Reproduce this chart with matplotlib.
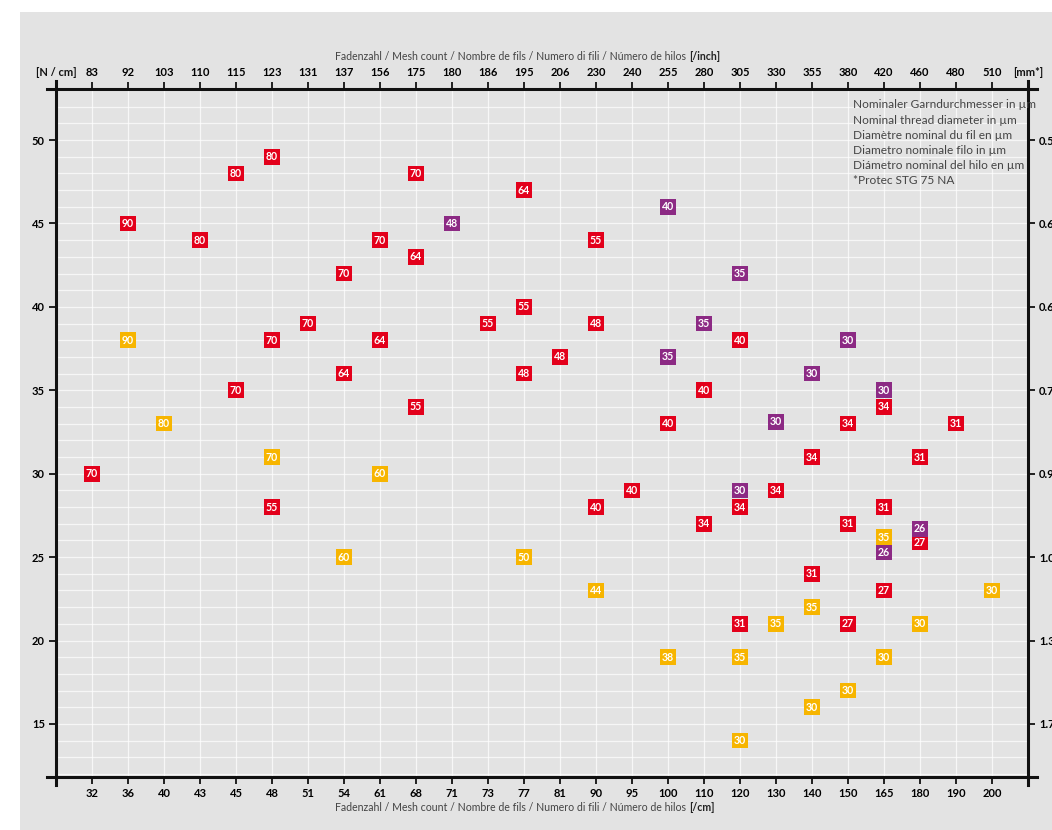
import matplotlib
matplotlib.use('Agg')
from matplotlib import pyplot as plt
from matplotlib.patches import Rectangle

plt.rcParams['font.family'] = ['Lato', 'DejaVu Sans']

mesh_cm = [32, 36, 40, 43, 45, 48, 51, 54, 61, 68, 71, 73, 77, 81, 90, 95,
           100, 110, 120, 130, 140, 150, 165, 180, 190, 200]
mesh_inch = [83, 92, 103, 110, 115, 123, 131, 137, 156, 175, 180, 186, 195, 206,
             230, 240, 255, 280, 305, 330, 355, 380, 420, 460, 480, 510]
left_ticks = [15, 20, 25, 30, 35, 40, 45, 50]
right_labels = ["1.75", "1.34", "1.08", "0.91", "0.78", "0.69", "0.61", "0.55"]

red_cm = [32, 36, 43, 45, 45, 48, 48, 48, 51, 54, 54, 61, 61, 68, 68, 68, 73, 77, 77, 77,
          81, 90, 90, 90, 95, 100, 110, 110, 120, 120, 120, 130, 140, 140, 150, 150, 150,
          165, 165, 165, 180, 180, 190]
red_val = [30, 45, 44, 48, 35, 49, 38, 28, 39, 42, 36, 44, 38, 48, 43, 34, 39, 47, 40, 36,
           37, 44, 39, 28, 29, 33, 35, 27, 38, 28, 21, 29, 31, 24, 33, 27, 21,
           34, 28, 23, 31, 25.9, 33]
red_diam = [70, 90, 80, 80, 70, 80, 70, 55, 70, 70, 64, 70, 64, 70, 64, 55, 55, 64, 55, 48,
            48, 55, 48, 40, 40, 40, 40, 34, 40, 34, 31, 34, 34, 31, 34, 31, 27,
            34, 31, 27, 31, 27, 31]

purple_cm = [71, 100, 100, 110, 120, 120, 130, 140, 150, 165, 165, 180]
purple_val = [45, 46, 37, 39, 42, 29, 33.1, 36, 38, 35, 25.3, 26.7]
purple_diam = [48, 40, 35, 35, 35, 30, 30, 30, 30, 30, 26, 26]

yellow_cm = [36, 40, 48, 54, 61, 77, 90, 100, 120, 120, 130, 140, 140, 150, 165, 165, 180, 200]
yellow_val = [38, 33, 31, 25, 30, 25, 23, 19, 19, 14, 21, 22, 16, 17, 26.2, 19, 21, 23]
yellow_diam = [90, 80, 70, 60, 60, 50, 44, 38, 35, 30, 35, 35, 30, 30, 35, 30, 30, 30]

legend_lines = ["Nominaler Garndurchmesser in µm",
                "Nominal thread diameter in µm",
                "Diamètre nominal du fil en µm",
                "Diametro nominale filo in µm",
                "Diámetro nominal del hilo en µm",
                "*Protec STG 75 NA"]

BG = "#e3e3e3"
TXT = "#444444"


def add_labels(ax, cms, vals, diams, color):
    for c, v, d in zip(cms, vals, diams):
        ax.text(mesh_cm.index(c), v, str(d), color="white", fontsize=7.6, fontweight="bold",
                ha="center", va="center", zorder=5,
                bbox=dict(boxstyle="square,pad=0.22", fc=color, ec="none"))


def plot_chart():
    fig = plt.figure(figsize=(10.52, 8.3), dpi=100)
    fig.patches.append(Rectangle((20 / 1052, 0), 1, 1 - 12 / 830, transform=fig.transFigure,
                                 fc=BG, ec="none", zorder=-10))

    ax = fig.add_axes([56 / 1052, 1 - 777 / 830, 972 / 1052, 688 / 830])
    ax.set_facecolor(BG)
    xs = list(range(len(mesh_cm)))
    ax.set_xlim(-1, 26)
    ax.set_ylim(11.82, 53.06)

    for i in xs:
        ax.axvline(i, color="white", lw=0.9, alpha=0.75, zorder=1)
    for y in range(12, 54):
        ax.axhline(y, color="white", lw=0.9, alpha=0.7, zorder=1)

    for s in ax.spines.values():
        s.set_visible(False)
    k = dict(color="#111111", lw=2.2, transform=ax.transAxes, clip_on=False, zorder=6)
    ax.plot([-0.009, 1.009], [0, 0], **k)
    ax.plot([-0.009, 1.009], [1, 1], **k)
    ax.plot([0, 0], [-0.012, 1.011], **k)
    ax.plot([1, 1], [-0.012, 1.011], **k)

    ax.set_xticks(xs)
    ax.set_xticklabels([str(v) for v in mesh_cm])
    ax.set_yticks(left_ticks)
    ax.set_yticklabels([str(v) for v in left_ticks])
    ax.tick_params(axis="both", length=5, width=1.3, color="#111111", labelsize=8, pad=3)
    for t in ax.get_xticklabels() + ax.get_yticklabels():
        t.set_fontweight("bold")

    ax_top = ax.twiny()
    ax_top.set_xlim(ax.get_xlim())
    ax_top.set_xticks(xs)
    ax_top.set_xticklabels([str(v) for v in mesh_inch], fontweight="bold")
    ax_top.tick_params(axis="x", length=5, width=1.3, color="#111111", labelsize=8, pad=3)
    for s in ax_top.spines.values():
        s.set_visible(False)

    ax_right = ax.twinx()
    ax_right.set_ylim(ax.get_ylim())
    ax_right.set_yticks(left_ticks)
    ax_right.set_yticklabels(right_labels, fontweight="bold")
    ax_right.tick_params(axis="y", length=5, width=1.3, color="#111111", labelsize=8, pad=3)
    for s in ax_right.spines.values():
        s.set_visible(False)

    add_labels(ax, red_cm, red_val, red_diam, "#e3001b")
    add_labels(ax, purple_cm, purple_val, purple_diam, "#8c2a84")
    add_labels(ax, yellow_cm, yellow_val, yellow_diam, "#f7b500")

    for xa, label in [(0, "[N / cm]"), (1, "[mm*]")]:
        ax.text(xa, 1 + 16 / 688, label, transform=ax.transAxes, ha="center", va="center",
                fontsize=8, fontweight="bold", color="#111111")

    fig.text(686 / 1052, 1 - 56 / 830,
             "Fadenzahl / Mesh count / Nombre de fils / Numero di fili / Número de hilos",
             ha="right", va="center", fontsize=7.6, color=TXT)
    fig.text(689 / 1052, 1 - 56 / 830, "[/inch]", ha="left", va="center",
             fontsize=7.6, fontweight="bold", color="#222222")
    fig.text(686 / 1052, 1 - 807 / 830,
             "Fadenzahl / Mesh count / Nombre de fils / Numero di fili / Número de hilos",
             ha="right", va="center", fontsize=7.6, color=TXT)
    fig.text(689 / 1052, 1 - 807 / 830, "[/cm]", ha="left", va="center",
             fontsize=7.6, fontweight="bold", color="#222222")

    for n, line in enumerate(legend_lines):
        fig.text(853 / 1052, 1 - (105 + 15.2 * n) / 830, line, ha="left", va="center",
                 fontsize=8.6, color=TXT)

    fig.savefig("out.png", dpi=100)


def execute():
    plot_chart()


if __name__ == "__main__":
    execute()
